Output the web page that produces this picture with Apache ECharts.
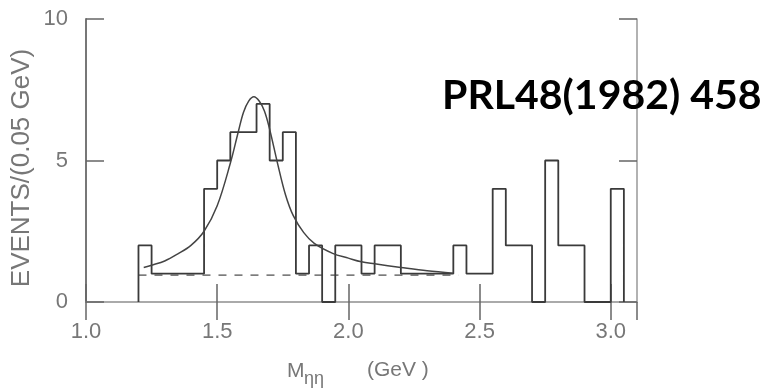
<!DOCTYPE html>
<html><head><meta charset="utf-8">
<script src="https://cdn.jsdelivr.net/npm/echarts@6/dist/echarts.min.js"></script>
<style>html,body{margin:0;padding:0;background:#fff}#c{width:770px;height:388px}</style>
</head><body><div id="c"></div>
<script>
// Histogram: left bin edges (GeV) and counts per 0.05 GeV bin
const binEdges = [1.20,1.25,1.30,1.35,1.40,1.45,1.50,1.55,1.60,1.65,1.70,1.75,1.80,1.85,1.90,1.95,2.00,2.05,2.10,2.15,2.20,2.25,2.30,2.35,2.40,2.45,2.50,2.55,2.60,2.65,2.70,2.75,2.80,2.85,2.90,2.95,3.00];
const binCounts = [2,1,1,1,1,4,5,6,6,7,5,6,1,2,0,2,2,1,2,2,1,1,1,1,2,1,1,4,2,2,0,5,2,2,0,0,4];
const histEnd = 3.05;
// Fitted curve
const fitX = [1.22,1.25,1.30,1.35,1.40,1.45,1.50,1.55,1.58,1.60,1.62,1.64,1.66,1.68,1.70,1.73,1.76,1.79,1.83,1.87,1.94,2.00,2.05,2.10,2.20,2.30,2.40];
const fitY = [1.22,1.30,1.45,1.70,2.00,2.50,3.40,4.90,6.00,6.70,7.10,7.25,7.10,6.75,6.10,4.90,3.80,3.05,2.45,2.07,1.72,1.55,1.42,1.35,1.22,1.10,1.02];
// Background (dashed)
const bgX = [1.20, 2.42];
const bgY = [0.95, 0.95];
// Tick labels
const xTicks = ['1.0','1.5','2.0','2.5','3.0'];
const yTicks = ['0','5','10'];

const histData = [[binEdges[0], 0]];
binEdges.forEach((e, i) => histData.push([e, binCounts[i]]));
histData.push([histEnd, 0]);
const fitData = fitX.map((x, i) => [x, fitY[i]]);
const bgData = bgX.map((x, i) => [x, bgY[i]]);

const lblFont = 'Liberation Sans';
const chart = echarts.init(document.getElementById('c'), null, {renderer: 'canvas'});
const tickStyle = {show: true, inside: true, length: 18, lineStyle: {color: '#666', width: 1.5}};
chart.setOption({
  animation: false,
  backgroundColor: '#fff',
  grid: {left: 86, top: 19, right: 133, bottom: 86},
  xAxis: [{
    type: 'value', min: 1.0, max: 3.1, interval: 0.5,
    axisLine: {show: true, lineStyle: {color: '#aaa', width: 2}},
    axisTick: tickStyle,
    splitLine: {show: false},
    axisLabel: {
      margin: 19, color: '#777', fontFamily: lblFont, fontSize: 22, showMaxLabel: false,
      formatter: v => { const s = v.toFixed(1); return xTicks.includes(s) ? s : ''; }
    }
  }, {
    type: 'value', min: 1.0, max: 3.1, interval: 0.5, position: 'top',
    axisLine: {show: true, lineStyle: {color: '#aaa', width: 1.5}},
    axisTick: tickStyle, axisLabel: {show: false}, splitLine: {show: false}
  }],
  yAxis: [{
    type: 'value', min: 0, max: 10, interval: 5,
    axisLine: {show: true, lineStyle: {color: '#777', width: 2}},
    axisTick: tickStyle,
    splitLine: {show: false},
    axisLabel: {
      margin: 18, color: '#777', fontFamily: lblFont, fontSize: 22,
      formatter: v => { const s = String(Math.round(v)); return yTicks.includes(s) ? s : ''; }
    }
  }, {
    type: 'value', min: 0, max: 10, interval: 5, position: 'right',
    axisLine: {show: true, lineStyle: {color: '#999', width: 1.5}},
    axisTick: tickStyle, axisLabel: {show: false}, splitLine: {show: false}
  }],
  series: [{
    type: 'line', step: 'end', data: histData, showSymbol: false, symbol: 'none',
    lineStyle: {color: '#3a3a3a', width: 1.8}, z: 3
  }, {
    type: 'line', data: fitData, smooth: 0.35, showSymbol: false, symbol: 'none',
    lineStyle: {color: '#444', width: 1.5}, z: 4
  }, {
    type: 'line', data: bgData, showSymbol: false, symbol: 'none',
    lineStyle: {color: '#555', width: 1.3, type: [8, 8]}, z: 2
  }],
  graphic: [
    {type: 'text', x: 22, y: 168, rotation: Math.PI / 2,
     style: {text: 'EVENTS/(0.05 GeV)', fontFamily: lblFont, fontSize: 26, fill: '#777', align: 'center', verticalAlign: 'middle'}},
    {type: 'text', x: 287, y: 371,
     style: {text: 'M', fontFamily: lblFont, fontSize: 21, fill: '#777', align: 'left', verticalAlign: 'middle'}},
    {type: 'text', x: 304, y: 379,
     style: {text: 'ηη', fontFamily: lblFont, fontSize: 18, fill: '#777', align: 'left', verticalAlign: 'middle'}},
    {type: 'text', x: 367, y: 370,
     style: {text: '(GeV )', fontFamily: lblFont, fontSize: 21, fill: '#777', align: 'left', verticalAlign: 'middle'}},
    {type: 'text', x: 442, y: 96, z: 10,
     style: {text: 'PRL48(1982) 458', fontFamily: 'Lato', fontWeight: 'bold', fontSize: 41, fill: '#000', align: 'left', verticalAlign: 'middle'}}
  ]
});
</script>
</body></html>
